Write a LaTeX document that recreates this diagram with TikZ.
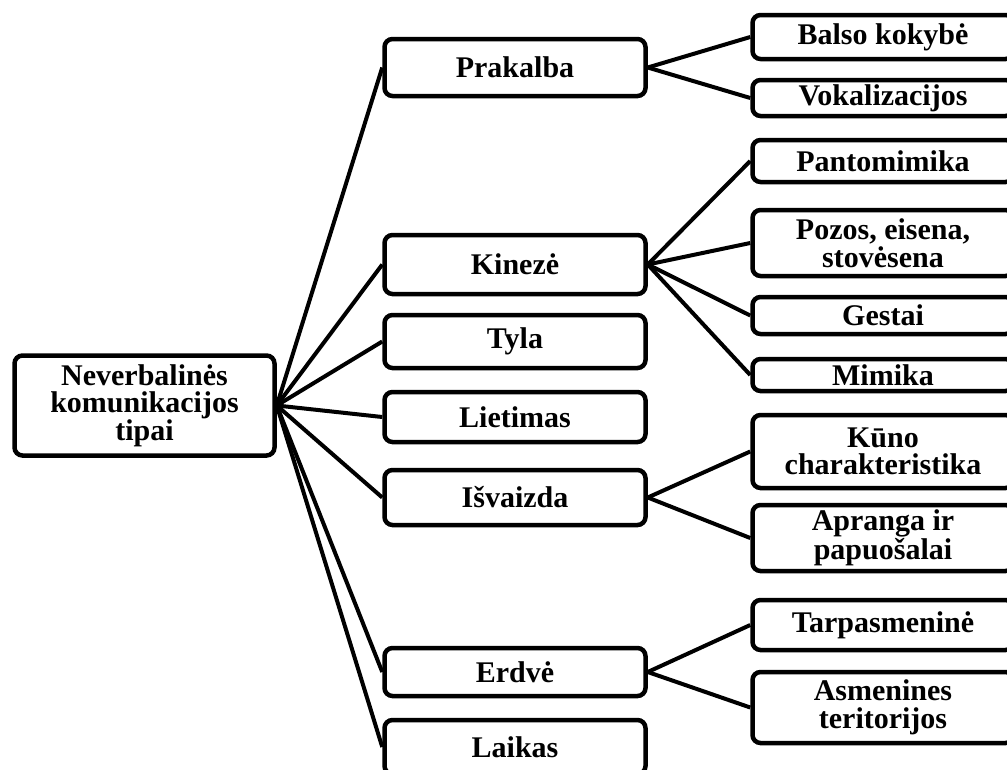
\documentclass[tikz,border=0pt]{standalone}
\usepackage{fontspec}
\setmainfont{Liberation Serif}
\begin{document}
\begin{tikzpicture}[x=1pt,y=-1pt,
  box/.style={draw=black, line width=4.5pt, rounded corners=8pt, fill=white,
    align=center, inner sep=0pt, minimum width=261pt,
    font=\fontsize{30}{27.5}\selectfont\bfseries},
  link/.style={draw=black, line width=4pt}]
\useasboundingbox (0,0) rectangle (1007,769);
\clip (0,0) rectangle (1007,769);

% root
\node[box, minimum width=260pt, minimum height=100pt] (root) at (144.5,405.5)
  {Neverbalinės\\komunikacijos\\tipai};

% second level
\node[box, minimum height=57pt] (prakalba) at (515,67.5) {Prakalba};
\node[box, minimum height=59pt] (kineze)   at (515,264.5) {Kinezė};
\node[box, minimum height=53pt] (tyla)     at (515,341.5) {Tyla};
\node[box, minimum height=50pt] (lietimas) at (515,417) {Lietimas};
\node[box, minimum height=55pt] (isvaizda) at (515,497.5) {Išvaizda};
\node[box, minimum height=48pt] (erdve)    at (515,672) {Erdvė};
\node[box, minimum height=54pt] (laikas)   at (515,747) {Laikas};

% third level
\node[box, minimum height=44pt] (balso)   at (883,37) {Balso kokybė};
\node[box, minimum height=36pt] (vokal)   at (883,98) {Vokalizacijos};
\node[box, minimum height=42pt] (panto)   at (883,161) {Pantomimika};
\node[box, minimum height=66pt] (pozos)   at (883,243) {Pozos, eisena,\\stovėsena};
\node[box, minimum height=37pt] (gestai)  at (883,315.5) {Gestai};
\node[box, minimum height=32pt] (mimika)  at (883,375) {Mimika};
\node[box, minimum height=73pt] (kuno)    at (883,451.5) {Kūno\\charakteristika};
\node[box, minimum height=66pt] (apranga) at (883,538) {Apranga ir\\papuošalai};
\node[box, minimum height=50pt] (tarp)    at (883,625) {Tarpasmeninė};
\node[box, minimum height=71pt] (asmen)   at (883,707.5) {Asmenines\\teritorijos};

% connectors
\foreach \c in {prakalba,kineze,tyla,lietimas,isvaizda,erdve,laikas}
  \draw[link] (root.east) -- (\c.west);
\foreach \c in {balso,vokal}
  \draw[link] (prakalba.east) -- (\c.west);
\foreach \c in {panto,pozos,gestai,mimika}
  \draw[link] (kineze.east) -- (\c.west);
\foreach \c in {kuno,apranga}
  \draw[link] (isvaizda.east) -- (\c.west);
\foreach \c in {tarp,asmen}
  \draw[link] (erdve.east) -- (\c.west);
\end{tikzpicture}
\end{document}
